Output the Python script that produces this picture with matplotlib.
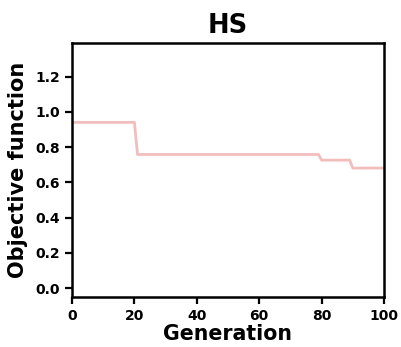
import matplotlib
matplotlib.use("Agg")
import matplotlib.pyplot as plt

# best objective value per generation (breakpoints of the step curve)
generations = [0, 20, 21, 79, 80, 89, 90, 100]
objective = [0.94, 0.94, 0.758, 0.758, 0.726, 0.726, 0.681, 0.681]

LINE_COLOR = "#F2BDBD"

plt.rcParams.update({"font.family": "DejaVu Sans", "font.weight": "bold"})

fig = plt.figure(figsize=(4.02, 3.47), dpi=100)
ax = fig.add_axes([72 / 402, 50 / 347, 312 / 402, 254 / 347])

ax.plot(generations, objective, color=LINE_COLOR, linewidth=2.0)

ax.set_xlim(0, 100)
ax.set_ylim(-0.05, 1.39)
ax.set_xticks([0, 20, 40, 60, 80, 100])
ax.set_yticks([0.0, 0.2, 0.4, 0.6, 0.8, 1.0, 1.2])
ax.set_yticklabels([f"{v:.1f}" for v in ax.get_yticks()])

for spine in ax.spines.values():
    spine.set_linewidth(1.8)
ax.tick_params(axis="both", width=1.6, length=5, labelsize=10)
for lab in ax.get_xticklabels() + ax.get_yticklabels():
    lab.set_fontweight("bold")

ax.set_title("HS", fontsize=18.5, fontweight="bold", pad=7)
ax.set_xlabel("Generation", fontsize=14.8, fontweight="bold", labelpad=1)
ax.set_ylabel("Objective function", fontsize=15, fontweight="bold", labelpad=5)

fig.savefig("out.png", dpi=100)
